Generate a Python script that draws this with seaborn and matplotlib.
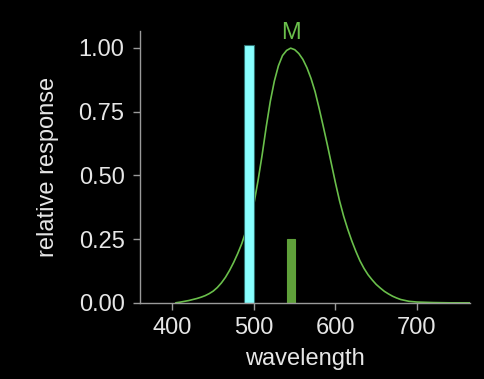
import matplotlib
matplotlib.use("Agg")
import matplotlib.pyplot as plt
import seaborn as sns
import pandas as pd

# M cone sensitivity curve
wavelength = [404, 410, 415, 420, 425, 430, 435, 440, 445, 450, 455, 460, 465, 470,
              475, 480, 485, 490, 495, 500, 505, 510, 515, 520, 525, 530, 535, 540,
              545, 550, 555, 560, 565, 570, 575, 580, 585, 590, 595, 600, 605, 610,
              615, 620, 625, 630, 635, 640, 645, 650, 655, 660, 665, 670, 675, 680,
              690, 700, 720, 740, 765]
response = [0.0, 0.003, 0.006, 0.009, 0.013, 0.017, 0.022, 0.028, 0.036, 0.046, 0.060,
            0.078, 0.100, 0.127, 0.158, 0.193, 0.232, 0.280, 0.333, 0.39, 0.48, 0.58,
            0.69, 0.79, 0.87, 0.93, 0.97, 0.99, 0.999, 0.993, 0.978, 0.955, 0.922,
            0.88, 0.828, 0.762, 0.692, 0.62, 0.545, 0.47, 0.40, 0.34, 0.289, 0.243,
            0.202, 0.165, 0.135, 0.11, 0.09, 0.072, 0.058, 0.045, 0.035, 0.026,
            0.019, 0.013, 0.006, 0.003, 0.001, 0.0, 0.0]

# stimulus bars
bar_wl = [494, 545]
bar_height = [1.01, 0.25]
bar_width = [12.5, 9.5]
bar_colors = ["#88ffff", "#5fa03a"]
bar_edges = ["#2f7070", "#5fa03a"]

curve = pd.DataFrame({"wavelength": wavelength, "response": response})

sns.set_style("ticks")
plt.rcParams["font.family"] = ["Liberation Sans", "DejaVu Sans"]
txt = "#e6e6e6"
grey = "#9a9a9a"

fig = plt.figure(figsize=(4.84, 3.79), dpi=100, facecolor="black")
ax = fig.add_axes([0.289, 0.201, 0.682, 0.717])
ax.set_facecolor("black")

sns.lineplot(data=curve, x="wavelength", y="response", ax=ax,
             color="#6abf4b", linewidth=1.2, zorder=1)
ax.bar(bar_wl, bar_height, width=bar_width, color=bar_colors,
       edgecolor=bar_edges, linewidth=0.8, zorder=2)

ax.text(545, 1.06, "M", color="#6abf4b", fontsize=17, ha="center", va="center")

ax.set_xlim(360, 765)
ax.set_ylim(0, 1.066)
ax.set_xticks([400, 500, 600, 700])
ax.set_yticks([0, 0.25, 0.5, 0.75, 1.0])
ax.set_yticklabels(["0.00", "0.25", "0.50", "0.75", "1.00"])
ax.set_xlabel("wavelength", color=txt, fontsize=17, labelpad=7)
ax.set_ylabel("relative response", color=txt, fontsize=17, labelpad=14)
ax.tick_params(colors=grey, labelcolor=txt, labelsize=17, length=5, width=1)
ax.tick_params(axis="y", pad=6)
ax.tick_params(axis="x", pad=5)

sns.despine(ax=ax)
for s in ["left", "bottom"]:
    ax.spines[s].set_color(grey)
    ax.spines[s].set_linewidth(1)

fig.savefig("out.png", dpi=100, facecolor="black")
